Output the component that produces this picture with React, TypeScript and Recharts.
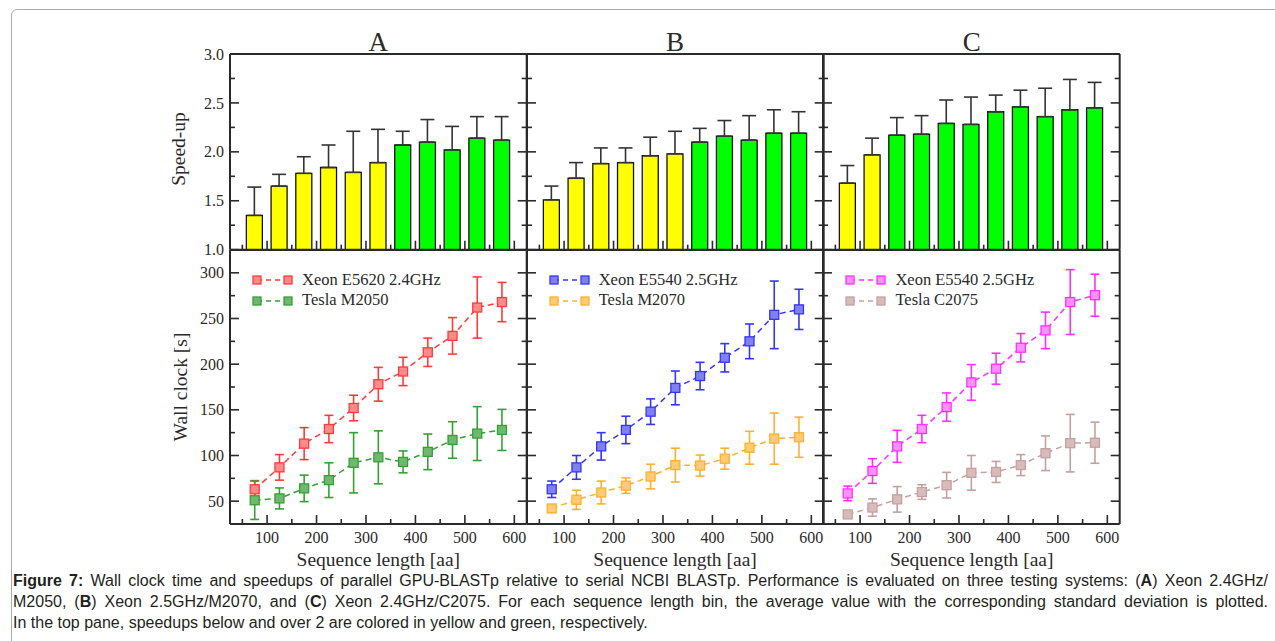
import React from "react";
import {
  BarChart,
  Bar,
  Cell,
  LineChart,
  Line,
  XAxis,
  YAxis,
  ErrorBar,
  Legend,
} from "recharts";

// bin centres of the sequence length histogram
const seqLen = [75, 125, 175, 225, 275, 325, 375, 425, 475, 525, 575];

// top pane: speed-up (mean, upper std)
const speedupA = [1.35, 1.65, 1.78, 1.84, 1.79, 1.89, 2.07, 2.1, 2.02, 2.14, 2.12];
const speedupErrA = [0.29, 0.12, 0.17, 0.23, 0.42, 0.34, 0.14, 0.23, 0.24, 0.22, 0.24];
const speedupB = [1.51, 1.73, 1.88, 1.89, 1.96, 1.98, 2.1, 2.16, 2.12, 2.19, 2.19];
const speedupErrB = [0.14, 0.16, 0.16, 0.15, 0.19, 0.23, 0.14, 0.16, 0.25, 0.24, 0.22];
const speedupC = [1.68, 1.97, 2.17, 2.18, 2.29, 2.28, 2.41, 2.46, 2.36, 2.43, 2.45];
const speedupErrC = [0.18, 0.17, 0.18, 0.19, 0.24, 0.28, 0.17, 0.17, 0.29, 0.31, 0.26];

// bottom pane: wall clock [s]
const cpuA = [63, 87, 113, 129, 152, 178, 192, 213, 231, 262, 268];
const cpuErrA = [9.5, 14, 17.5, 15, 14, 18.5, 15.5, 15.5, 20, 33.5, 21.5];
const gpuA = [51, 53, 64, 73, 92, 98, 93, 104, 117, 124, 128];
const gpuErrA = [21, 11.5, 14.5, 19, 33, 29, 12, 19.5, 20, 29.5, 22.5];

const cpuB = [63, 87, 110, 128, 148, 174, 187, 207, 225, 254, 260];
const cpuErrB = [9, 13, 15, 15, 14, 18.5, 15, 15.5, 19, 37, 22];
const gpuB = [42, 51.5, 59.5, 67, 77, 89.5, 89, 96.5, 108.5, 118.5, 120];
const gpuErrB = [3, 10.5, 12.5, 8.5, 13.5, 18.5, 11.5, 11.5, 18, 28, 22];

const cpuC = [58.5, 83, 110, 129, 153, 180, 195, 218, 237, 268, 275.5];
const cpuErrC = [8, 13.5, 17.5, 15, 15.5, 19.5, 17, 15.5, 20, 35.5, 23];
const gpuC = [35.5, 43, 52, 60, 67.5, 81, 82, 89.5, 102.5, 113.5, 114];
const gpuErrC = [3, 9.5, 14, 8, 14, 19, 11.5, 11.5, 19, 31.5, 22.5];

const panelTitles = ["A", "B", "C"];
const cpuNames = ["Xeon E5620 2.4GHz", "Xeon E5540 2.5GHz", "Xeon E5540 2.5GHz"];
const gpuNames = ["Tesla M2050", "Tesla M2070", "Tesla C2075"];
const cpuColors = ["#ff3b3b", "#3535f5", "#ff30ff"];
const cpuFills = ["#ff8a8a", "#8080ee", "#ff90ff"];
const gpuColors = ["#35a035", "#ffb030", "#c4a0a0"];
const gpuFills = ["#70b870", "#ffcb75", "#d8bcbc"];

const xTicks = [50, 100, 150, 200, 250, 300, 350, 400, 450, 500, 550, 600];
const speedTicks = [1, 1.25, 1.5, 1.75, 2, 2.25, 2.5, 2.75, 3];
const wallTicks = [50, 75, 100, 125, 150, 175, 200, 225, 250, 275, 300];

const PLOT_W = 296.7;
const PANEL_X = [230, 526.7, 823.4];
const TOP_Y = 54.3;
const MID_Y = 250;
const BOT_Y = 524;
// outer space round each plot; every axis takes 1px of it
const M = { top: 10, right: 10, bottom: 25, left: 60 };
const CHART_MARGIN = { top: M.top - 1, right: M.right - 1, bottom: M.bottom - 1, left: M.left - 1 };

const INK = "#2a2a2a";
const SERIF = "'Liberation Serif', 'Times New Roman', serif";

type Side = "left" | "right" | "top" | "bottom";

function axisTick(side: Side, isMajor: (v: number) => boolean, fmt?: (v: number) => string) {
  return (props: any) => {
    const { x, y, payload } = props;
    const v = payload.value;
    const major = isMajor(v);
    const len = major ? 9 : 5;
    const d: Record<Side, [number, number]> = {
      left: [len, 0],
      right: [-len, 0],
      top: [0, len],
      bottom: [0, -len],
    };
    const [dx, dy] = d[side];
    let label = null;
    if (fmt && major) {
      label =
        side === "left" ? (
          <text x={x - 6} y={y} dy="0.35em" textAnchor="end" fill={INK} fontSize={16} fontFamily={SERIF}>
            {fmt(v)}
          </text>
        ) : (
          <text x={x} y={y + 13} dy="0.35em" textAnchor="middle" fill={INK} fontSize={16} fontFamily={SERIF}>
            {fmt(v)}
          </text>
        );
    }
    return (
      <g>
        <line x1={x} y1={y} x2={x + dx} y2={y + dy} stroke={INK} strokeWidth={1.6} />
        {label}
      </g>
    );
  };
}

const xMajor = (v: number) => v % 100 === 0;
const speedMajor = (v: number) => Math.abs(v * 2 - Math.round(v * 2)) < 1e-6;
const wallMajor = (v: number) => v % 50 === 0;
const axisLine = { stroke: INK, strokeWidth: 2 };

function frameAxes(yDomain: number[], yTicks: number[], yMajor: (v: number) => boolean, xFmt?: (v: number) => string, yFmt?: (v: number) => string) {
  return [
    <XAxis
      key="xb"
      xAxisId="b"
      dataKey="len"
      type="number"
      domain={[25, 625]}
      allowDataOverflow
      ticks={xTicks}
      interval={0}
      height={1}
      tickSize={0}
      tickMargin={0}
      tickLine={false}
      axisLine={axisLine}
      tick={axisTick("bottom", xMajor, xFmt)}
    />,
    <XAxis
      key="xt"
      xAxisId="t"
      orientation="top"
      type="number"
      domain={[25, 625]}
      allowDataOverflow
      ticks={xTicks}
      interval={0}
      height={1}
      tickSize={0}
      tickMargin={0}
      tickLine={false}
      axisLine={axisLine}
      tick={axisTick("top", xMajor)}
    />,
    <YAxis
      key="yl"
      yAxisId="l"
      type="number"
      domain={yDomain}
      allowDataOverflow
      ticks={yTicks}
      interval={0}
      width={1}
      tickSize={0}
      tickMargin={0}
      tickLine={false}
      axisLine={axisLine}
      tick={axisTick("left", yMajor, yFmt)}
    />,
    <YAxis
      key="yr"
      yAxisId="r"
      orientation="right"
      type="number"
      domain={yDomain}
      allowDataOverflow
      ticks={yTicks}
      interval={0}
      width={1}
      tickSize={0}
      tickMargin={0}
      tickLine={false}
      axisLine={axisLine}
      tick={axisTick("right", yMajor)}
    />,
  ];
}

function SpeedupPane({ idx, values, errors }: { idx: number; values: number[]; errors: number[] }) {
  const data = seqLen.map((len, i) => ({ len, speedup: values[i], err: [0, errors[i]] }));
  const h = MID_Y - TOP_Y;
  return (
    <div style={{ position: "absolute", left: PANEL_X[idx] - M.left, top: TOP_Y - M.top }}>
      <BarChart width={PLOT_W + M.left + M.right} height={h + M.top + M.bottom} data={data} margin={CHART_MARGIN}>
        {frameAxes([1, 3], speedTicks, speedMajor, undefined, idx === 0 ? (v) => v.toFixed(1) : undefined)}
        <Bar
          xAxisId="b"
          yAxisId="l"
          dataKey="speedup"
          barSize={16}
          stroke="#111"
          strokeWidth={1.3}
          isAnimationActive={false}
        >
          {data.map((d) => (
            <Cell key={d.len} fill={d.speedup < 2 ? "#ffff00" : "#00ff00"} />
          ))}
          <ErrorBar dataKey="err" width={7} strokeWidth={1.6} stroke="#333" direction="y" isAnimationActive={false} />
        </Bar>
      </BarChart>
    </div>
  );
}

const squareDot = (stroke: string, fill: string) => (props: any) => {
  const { cx, cy } = props;
  if (cx == null || cy == null) return <g key={props.key ?? props.index} />;
  return (
    <rect
      key={props.key ?? `${cx}-${cy}`}
      x={cx - 4.5}
      y={cy - 4.5}
      width={9}
      height={9}
      fill={fill}
      stroke={stroke}
      strokeWidth={1.3}
    />
  );
};

function renderLegend(props: any) {
  const items = props.payload || [];
  return (
    <div style={{ fontFamily: SERIF, fontSize: 16.5, color: INK, lineHeight: "20.7px" }}>
      {items.map((it: any) => (
        <div key={it.value} style={{ display: "flex", alignItems: "center", whiteSpace: "nowrap" }}>
          <svg width={41} height={12} style={{ marginRight: 9 }}>
            <line x1={5} y1={6} x2={36} y2={6} stroke={it.color} strokeWidth={1.5} strokeDasharray="5 4" />
            <rect x={1} y={2} width={8} height={8} fill={it.payload?.fill ?? it.color} stroke={it.color} strokeWidth={1.3} />
            <rect x={32} y={2} width={8} height={8} fill={it.payload?.fill ?? it.color} stroke={it.color} strokeWidth={1.3} />
          </svg>
          <span>{it.value}</span>
        </div>
      ))}
    </div>
  );
}

function WallPane({
  idx,
  cpu,
  cpuErr,
  gpu,
  gpuErr,
}: {
  idx: number;
  cpu: number[];
  cpuErr: number[];
  gpu: number[];
  gpuErr: number[];
}) {
  const data = seqLen.map((len, i) => ({ len, cpu: cpu[i], cpuErr: cpuErr[i], gpu: gpu[i], gpuErr: gpuErr[i] }));
  const h = BOT_Y - MID_Y;
  return (
    <div style={{ position: "absolute", left: PANEL_X[idx] - M.left, top: MID_Y - M.top }}>
      <LineChart width={PLOT_W + M.left + M.right} height={h + M.top + M.bottom} data={data} margin={CHART_MARGIN}>
        {frameAxes([25, 325], wallTicks, wallMajor, (v) => String(v), idx === 0 ? (v) => String(v) : undefined)}
        <Legend
          layout="vertical"
          align="center"
          verticalAlign="middle"
          itemSorter="dataKey"
          wrapperStyle={{ left: M.left + 22, top: M.top + 19.7, width: "auto" }}
          content={renderLegend}
        />
        <Line
          xAxisId="b"
          yAxisId="l"
          dataKey="cpu"
          name={cpuNames[idx]}
          stroke={cpuColors[idx]}
          fill={cpuFills[idx]}
          strokeWidth={1.5}
          strokeDasharray="6 4"
          dot={squareDot(cpuColors[idx], cpuFills[idx])}
          isAnimationActive={false}
        >
          <ErrorBar dataKey="cpuErr" width={4.5} strokeWidth={1.6} stroke={cpuColors[idx]} direction="y" isAnimationActive={false} />
        </Line>
        <Line
          xAxisId="b"
          yAxisId="l"
          dataKey="gpu"
          name={gpuNames[idx]}
          stroke={gpuColors[idx]}
          fill={gpuFills[idx]}
          strokeWidth={1.5}
          strokeDasharray="6 4"
          dot={squareDot(gpuColors[idx], gpuFills[idx])}
          isAnimationActive={false}
        >
          <ErrorBar dataKey="gpuErr" width={4.5} strokeWidth={1.6} stroke={gpuColors[idx]} direction="y" isAnimationActive={false} />
        </Line>
      </LineChart>
    </div>
  );
}

const speedups = [
  [speedupA, speedupErrA],
  [speedupB, speedupErrB],
  [speedupC, speedupErrC],
];
const walls = [
  [cpuA, cpuErrA, gpuA, gpuErrA],
  [cpuB, cpuErrB, gpuB, gpuErrB],
  [cpuC, cpuErrC, gpuC, gpuErrC],
];

const centered = (x: number, y: number, extra: React.CSSProperties = {}): React.CSSProperties => ({
  position: "absolute",
  left: x,
  top: y,
  transform: "translate(-50%, -50%)",
  whiteSpace: "nowrap",
  fontFamily: SERIF,
  color: INK,
  ...extra,
});

const captionLine: React.CSSProperties = { width: 1255, textAlign: "justify", textAlignLast: "justify" };

export default function App() {
  return (
    <div style={{ position: "absolute", left: 0, top: 0, width: 1275, height: 641, overflow: "hidden", background: "#fff" }}>
      <div
        style={{
          position: "absolute",
          left: 11,
          top: 9,
          width: 1300,
          height: 700,
          border: "1px solid #ababab",
          borderRadius: 6,
        }}
      />
      {panelTitles.map((t, i) => (
        <div key={t} style={centered(PANEL_X[i] + PLOT_W / 2, 41.5, { fontSize: 27 })}>
          {t}
        </div>
      ))}
      {speedups.map(([v, e], i) => (
        <SpeedupPane key={i} idx={i} values={v} errors={e} />
      ))}
      {walls.map(([c, ce, g, ge], i) => (
        <WallPane key={i} idx={i} cpu={c} cpuErr={ce} gpu={g} gpuErr={ge} />
      ))}
      {panelTitles.map((t, i) => (
        <div key={t} style={centered(PANEL_X[i] + PLOT_W / 2, 559.5, { fontSize: 19.5 })}>
          Sequence length [aa]
        </div>
      ))}
      <div style={centered(178.5, 149, { fontSize: 19.5, transform: "translate(-50%, -50%) rotate(-90deg)" })}>
        Speed-up
      </div>
      <div style={centered(180.5, 387, { fontSize: 19.5, transform: "translate(-50%, -50%) rotate(-90deg)" })}>
        Wall clock [s]
      </div>
      <div
        style={{
          position: "absolute",
          left: 13,
          top: 571,
          fontFamily: "'Liberation Sans', Arial, sans-serif",
          fontSize: 16,
          lineHeight: "20.8px",
          color: "#231f20",
          whiteSpace: "nowrap",
        }}
      >
        <div style={captionLine}>
          <b>Figure 7:</b> Wall clock time and speedups of parallel GPU-BLASTp relative to serial NCBI BLASTp.
          Performance is evaluated on three testing systems: (<b>A</b>) Xeon 2.4GHz/
        </div>
        <div style={captionLine}>
          M2050, (<b>B</b>) Xeon 2.5GHz/M2070, and (<b>C</b>) Xeon 2.4GHz/C2075. For each sequence length bin, the
          average value with the corresponding standard deviation is plotted.
        </div>
        <div>In the top pane, speedups below and over 2 are colored in yellow and green, respectively.</div>
      </div>
    </div>
  );
}
